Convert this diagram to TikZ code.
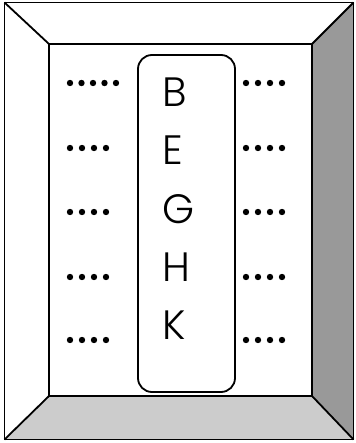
\documentclass[tikz,border=0pt]{standalone}
\usepackage{fontspec}
\setmainfont{Poppins}[UprightFont=* Light]
\begin{document}
\begin{tikzpicture}[x=1pt,y=-1pt,
  edge/.style={draw=black,line width=1.8pt,line join=miter},
  letter/.style={anchor=base west,inner sep=0pt,font=\fontsize{41}{41}\selectfont},
  dot/.style={circle,fill=black,inner sep=0pt,minimum size=6.4pt}]
\useasboundingbox (0,0) rectangle (355,443);
\coordinate (o1) at (4.5,2.5);
\coordinate (o2) at (353.5,2.5);
\coordinate (o3) at (353.5,439.5);
\coordinate (o4) at (4.5,439.5);
\coordinate (i1) at (49,44);
\coordinate (i2) at (312,44);
\coordinate (i3) at (312,396);
\coordinate (i4) at (49,396);
\fill[white] (o1) -- (o2) -- (o3) -- (o4) -- cycle;
\fill[fill={rgb,255:red,153;green,153;blue,153}] (o2) -- (o3) -- (i3) -- (i2) -- cycle;
\fill[fill={rgb,255:red,204;green,204;blue,204}] (o4) -- (o3) -- (i3) -- (i4) -- cycle;
\draw[edge] (o1) -- (o2) -- (o3) -- (o4) -- cycle;
\draw[edge] (i1) -- (i2) -- (i3) -- (i4) -- cycle;
\draw[edge] (o1) -- (i1);
\draw[edge] (o2) -- (i2);
\draw[edge] (o3) -- (i3);
\draw[edge] (o4) -- (i4);
\node[draw=black,line width=1.8pt,rounded corners=14pt,minimum width=97pt,minimum height=337pt,inner sep=0pt] (col) at (186.5,223.5) {};
\node[letter] (B) at (162,107) {B};
\node[letter] (E) at (162,165) {E};
\node[letter] (G) at (162,223) {G};
\node[letter] (H) at (162,281) {H};
\node[letter] (K) at (162,339) {K};
\foreach \i in {0,...,4} \node[dot] (l1\i) at (70+11.5*\i,83) {};
\foreach \r/\y in {2/148,3/212,4/277,5/340} {
  \foreach \i in {0,...,3} \node[dot] (l\r\i) at (70+12*\i,\y) {};
}
\foreach \r/\y in {1/83,2/148,3/212,4/277,5/340} {
  \foreach \i in {0,...,3} \node[dot] (r\r\i) at (246+12*\i,\y) {};
}
\end{tikzpicture}
\end{document}
